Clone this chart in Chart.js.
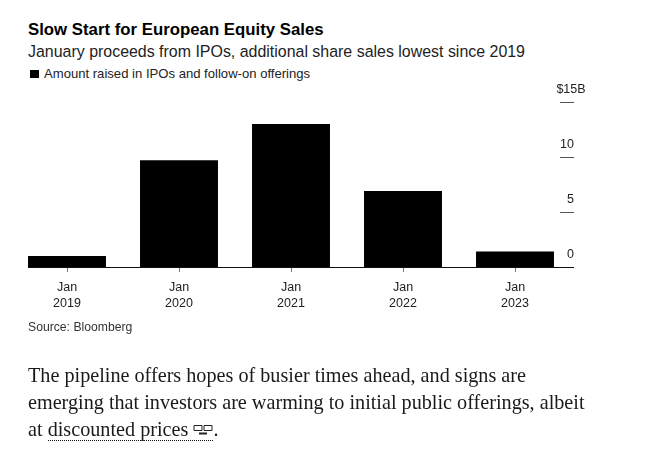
<!DOCTYPE html>
<html>
<head>
<meta charset="utf-8">
<script src="https://cdn.jsdelivr.net/npm/chart.js@4"></script>
<style>
  html, body { margin: 0; padding: 0; background: #fff; }
  body { width: 645px; height: 459px; position: relative; overflow: hidden; color: #111; font-family: "Liberation Sans", Arial, sans-serif; }
  canvas { position: absolute; left: 0; top: 0; }
  .txt { position: absolute; left: 28px; white-space: nowrap; }
  #title { top: 20px; font-size: 16.8px; line-height: 20px; font-weight: 700; color: #000; }
  #subtitle { top: 42px; font-size: 15.95px; line-height: 20px; color: #222; }
  #legend { top: 66px; left: 30px; font-size: 13.1px; line-height: 16px; color: #222; }
  #legend i { display: inline-block; width: 9px; height: 8px; background: #000; margin-right: 5px; }
  #source { top: 319px; font-size: 12.2px; line-height: 16px; color: #333; }
  #para { top: 362px; font-family: "Liberation Serif", serif; font-size: 20.2px; line-height: 27px; color: #1a1a1a; }
  #para span { border-bottom: 1px dotted #111; }
  #para svg { vertical-align: -1px; }
</style>
</head>
<body>
<div class="txt" id="title">Slow Start for European Equity Sales</div>
<div class="txt" id="subtitle">January proceeds from IPOs, additional share sales lowest since 2019</div>
<div class="txt" id="legend"><i></i>Amount raised in IPOs and follow-on offerings</div>
<canvas id="chart" width="645" height="459"></canvas>
<div class="txt" id="source">Source: Bloomberg</div>
<div class="txt" id="para">The pipeline offers hopes of busier times ahead, and signs are<br>emerging that investors are warming to initial public offerings, albeit<br>at <span>discounted prices <svg width="20" height="13" viewBox="0 0 20 13"><path d="M1 1.5h8v5H1zM11 1.5h8v5h-8z" fill="none" stroke="#222"/><path d="M6 9.5h8" stroke="#222" stroke-width="2"/></svg></span>.</div>

<script>
// Values, $ billions
const categories = [['Jan', '2019'], ['Jan', '2020'], ['Jan', '2021'], ['Jan', '2022'], ['Jan', '2023']];
const amountRaised = [1.0, 9.7, 13.0, 6.9, 1.4];
const yTickValues = [0, 5, 10, 15];
const yTickLabels = ['0', '5', '10', '$15B'];

const INK = '#222';
const RULE = '#555';

// Baseline, right-hand tick rules and their labels sit above each tick
const axisPlugin = {
  id: 'axisPlugin',
  afterDraw(chart) {
    const { ctx, scales: { x, y } } = chart;
    ctx.save();
    const base = y.getPixelForValue(0);
    ctx.strokeStyle = '#111';
    ctx.lineWidth = 1;
    ctx.beginPath();
    ctx.moveTo(28, base + 0.5);
    ctx.lineTo(574, base + 0.5);
    ctx.stroke();

    ctx.font = '12.5px "Liberation Sans", Arial, sans-serif';
    ctx.fillStyle = INK;
    ctx.textBaseline = 'middle';
    yTickValues.forEach((v, i) => {
      const py = y.getPixelForValue(v);
      if (v !== 0) {
        ctx.strokeStyle = RULE;
        ctx.beginPath();
        ctx.moveTo(560, py + 0.5);
        ctx.lineTo(574, py + 0.5);
        ctx.stroke();
      }
      ctx.textAlign = i === yTickValues.length - 1 ? 'center' : 'right';
      ctx.fillText(yTickLabels[i], i === yTickValues.length - 1 ? 571 : 574, py - 12);
    });
    ctx.restore();
  }
};

new Chart(document.getElementById('chart'), {
  type: 'bar',
  data: {
    labels: categories,
    datasets: [{
      label: 'Amount raised in IPOs and follow-on offerings',
      data: amountRaised,
      backgroundColor: '#000',
      categoryPercentage: 1,
      barPercentage: 0.696
    }]
  },
  options: {
    responsive: false,
    animation: false,
    layout: { padding: { top: 102, left: 11, right: 74, bottom: 0 } },
    plugins: { legend: { display: false }, tooltip: { enabled: false } },
    scales: {
      x: {
        afterFit(scale) { scale.height = 192; },
        border: { display: false },
        grid: { offset: false, drawOnChartArea: false, tickLength: 5, tickColor: '#777', tickWidth: 1 },
        ticks: {
          color: INK,
          padding: 8,
          maxRotation: 0,
          font: { family: '"Liberation Sans", Arial, sans-serif', size: 12.5, lineHeight: 1.28 }
        }
      },
      y: {
        display: false,
        min: 0,
        max: 15,
        ticks: { stepSize: 5 }
      }
    }
  },
  plugins: [axisPlugin]
});
</script>
</body>
</html>
